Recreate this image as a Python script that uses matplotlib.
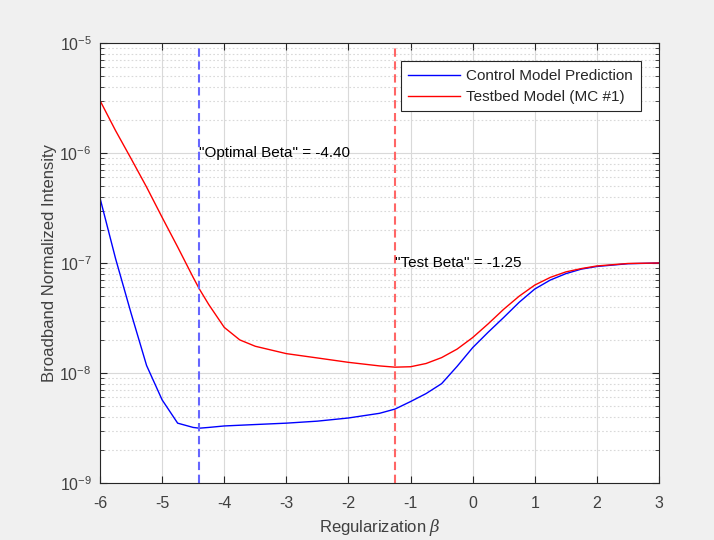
import numpy as np
import matplotlib
matplotlib.use('Agg')
import matplotlib.pyplot as plt
from matplotlib.ticker import LogLocator, NullFormatter

# values
beta = [-6, -5.75, -5.5, -5.25, -5, -4.75, -4.5, -4.4, -4.25, -4, -3.75, -3.5,
        -3, -2.5, -2, -1.5, -1.25, -1, -0.75, -0.5, -0.25, 0, 0.25, 0.5, 0.75,
        1, 1.25, 1.5, 1.75, 2, 2.5, 3]
control = [3.9e-7, 1.1e-7, 3.5e-8, 1.17e-8, 5.7e-9, 3.5e-9, 3.2e-9, 3.15e-9,
           3.2e-9, 3.3e-9, 3.35e-9, 3.4e-9, 3.5e-9, 3.65e-9, 3.9e-9, 4.3e-9,
           4.7e-9, 5.5e-9, 6.5e-9, 8.0e-9, 1.15e-8, 1.7e-8, 2.35e-8, 3.2e-8,
           4.4e-8, 5.8e-8, 7.0e-8, 8.0e-8, 8.8e-8, 9.3e-8, 9.85e-8, 1.0e-7]
testbed = [3.0e-6, 1.6e-6, 8.9e-7, 4.9e-7, 2.6e-7, 1.4e-7, 7.4e-8, 5.8e-8,
           4.2e-8, 2.6e-8, 2.0e-8, 1.75e-8, 1.5e-8, 1.37e-8, 1.25e-8, 1.16e-8,
           1.13e-8, 1.14e-8, 1.22e-8, 1.38e-8, 1.65e-8, 2.1e-8, 2.8e-8, 3.8e-8,
           5.0e-8, 6.3e-8, 7.4e-8, 8.3e-8, 8.9e-8, 9.4e-8, 9.9e-8, 1.0e-7]
optimal_beta = -4.40
test_beta = -1.25

plt.rcParams['font.family'] = ['Liberation Sans', 'DejaVu Sans']
plt.rcParams['mathtext.fontset'] = 'custom'
plt.rcParams['mathtext.rm'] = 'Liberation Sans'
plt.rcParams['mathtext.it'] = 'DejaVu Serif:italic'
plt.rcParams['axes.unicode_minus'] = False
dark = '#262626'
tickcol = '#404040'

fig = plt.figure(figsize=(7.14, 5.4), dpi=100, facecolor='#f0f0f0')
ax = fig.add_axes([100/714, 57/540, 559/714, 440/540])

ax.plot(beta, control, color='b', lw=1.0, label='Control Model Prediction')
ax.plot(beta, testbed, color='r', lw=1.0, label='Testbed Model (MC #1)')
ax.axvline(optimal_beta, color='#6666ff', lw=1.5, ls=(0, (4, 2.2)))
ax.axvline(test_beta, color='#ff6666', lw=1.5, ls=(0, (4, 2.2)))
ax.text(optimal_beta, 1e-6, '"Optimal Beta" = %.2f' % optimal_beta,
        fontsize=11, va='center', ha='left', color='k')
ax.text(test_beta, 1e-7, '"Test Beta" = %.2f' % test_beta,
        fontsize=11, va='center', ha='left', color='k')

ax.set_yscale('log')
ax.set_xlim(-6, 3)
ax.set_ylim(1e-9, 1e-5)
ax.set_xticks(np.arange(-6, 4, 1))
ax.yaxis.set_minor_locator(LogLocator(base=10, subs=np.arange(2, 10), numticks=20))
ax.yaxis.set_minor_formatter(NullFormatter())

ax.grid(True, which='major', color='#d9d9d9', lw=0.8, ls='-')
ax.grid(True, which='minor', axis='y', color='#d9d9d9', lw=0.8, ls=(0, (1.5, 2)))
ax.set_axisbelow(True)

ax.tick_params(which='both', direction='in', top=True, right=True,
               colors=dark, labelsize=11.5, labelcolor=tickcol)
ax.tick_params(which='major', length=5, width=0.8)
ax.tick_params(which='minor', length=3, width=0.6)
ax.tick_params(axis='x', pad=9)
ax.tick_params(axis='y', pad=6)
for s in ax.spines.values():
    s.set_color(dark)
    s.set_linewidth(0.8)

ax.set_xlabel(r'Regularization $\beta$', fontsize=12, color=tickcol, labelpad=5)
ax.set_ylabel('Broadband Normalized Intensity', fontsize=12, color=tickcol,
              labelpad=2)

leg = ax.legend(loc='upper right', fontsize=11, fancybox=False, framealpha=1,
                edgecolor=dark, handlelength=3.4, handletextpad=0.4,
                borderaxespad=1.2, labelspacing=0.45, borderpad=0.5)
leg.get_frame().set_linewidth(0.8)
for t in leg.get_texts():
    t.set_color(dark)

fig.savefig('out.png', dpi=100, facecolor=fig.get_facecolor())
